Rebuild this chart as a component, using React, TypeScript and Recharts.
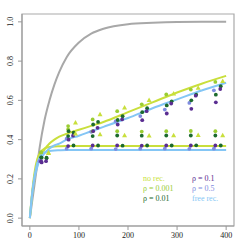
import React from "react";
import { ComposedChart, Line, Scatter, XAxis, YAxis, ReferenceArea } from "recharts";

// sampling points of the theory curves
const lineX = [0, 5, 10, 15, 20, 30, 40, 50, 60, 75, 100, 125, 150, 200, 250, 300, 350, 400];
const grayCurve = [0, 0.09, 0.18, 0.27, 0.36, 0.5, 0.6, 0.68, 0.745, 0.82, 0.895, 0.94, 0.965, 0.988, 0.995, 0.999, 1.0, 1.0];
const noRecGrow = [0, 0.13, 0.22, 0.28, 0.31, 0.35, 0.38, 0.4, 0.415, 0.43, 0.45, 0.47, 0.49, 0.54, 0.59, 0.64, 0.685, 0.725];
const freeRecGrow = [0, 0.13, 0.21, 0.26, 0.295, 0.33, 0.355, 0.37, 0.38, 0.4, 0.42, 0.443, 0.465, 0.51, 0.56, 0.605, 0.65, 0.69];
const noRecFlat = [0, 0.14, 0.24, 0.3, 0.33, 0.355, 0.362, 0.365, 0.366, 0.367, 0.367, 0.367, 0.367, 0.367, 0.367, 0.367, 0.367, 0.367];
const freeRecFlat = [0, 0.13, 0.22, 0.28, 0.31, 0.335, 0.342, 0.345, 0.346, 0.347, 0.347, 0.347, 0.347, 0.347, 0.347, 0.347, 0.347, 0.347];

// simulation time points
const times = [20, 75, 125, 175, 225, 275, 325, 375];

// growing scenario
const growNoRec = [0.33, 0.486, 0.528, 0.562, 0.6, 0.633, 0.663, 0.697];
const growRho001 = [0.335, 0.469, 0.503, 0.545, 0.58, 0.63, 0.655, 0.694];
const growRho01a = [0.308, 0.443, 0.477, 0.5, 0.54, 0.574, 0.6, 0.629];
const growRho01b = [0.308, 0.435, 0.49, 0.519, 0.56, 0.595, 0.629, 0.672];
const growRho1a = [0.284, 0.4, 0.443, 0.477, 0.499, 0.533, 0.557, 0.59];
const growRho1b = [0.29, 0.42, 0.46, 0.503, 0.545, 0.584, 0.624, 0.658];
const growRho5 = [0.29, 0.405, 0.44, 0.494, 0.52, 0.553, 0.587, 0.651];

// flat scenario
const flatNoRec = [0.333, 0.43, 0.426, 0.421, 0.42, 0.421, 0.422, 0.421];
const flatRho001 = [0.335, 0.452, 0.443, 0.443, 0.441, 0.443, 0.444, 0.443];
const flatRho01a = [0.31, 0.418, 0.418, 0.421, 0.42, 0.421, 0.421, 0.421];
const flatRho01b = [0.305, 0.37, 0.37, 0.369, 0.37, 0.37, 0.371, 0.37];
const flatRho1 = [0.29, 0.367, 0.37, 0.37, 0.369, 0.37, 0.37, 0.37];
const flatRho5 = [0.29, 0.354, 0.354, 0.352, 0.354, 0.354, 0.353, 0.354];

const xTicks = [0, 100, 200, 300, 400];
const yTicks = [0, 0.2, 0.4, 0.6, 0.8, 1.0];

const C = {
  gray: "#a8a8a8",
  noRec: "#c9df3c",
  rho001: "#9acd32",
  rho01: "#1c6a2c",
  rho1: "#5a2d91",
  rho5: "#7f8ce0",
  freeRec: "#84c6f5",
};

const font = '"Liberation Serif", "Times New Roman", serif';

const toLine = (ys: number[]) => lineX.map((x, i) => ({ x, y: ys[i] }));
const toPts = (ys: number[], dx: number) => times.map((t, i) => ({ x: t + dx, y: ys[i] }));

const dot = (color: string) => (p: any) => <circle cx={p.cx} cy={p.cy} r={1.9} fill={color} />;
const tri = (color: string) => (p: any) => (
  <polygon points={`${p.cx},${p.cy - 2.8} ${p.cx - 2.5},${p.cy + 1.7} ${p.cx + 2.5},${p.cy + 1.7}`} fill={color} />
);

const points = [
  { ys: growRho5, dx: 0, shape: dot(C.rho5) },
  { ys: flatRho5, dx: 0, shape: dot(C.rho5) },
  { ys: growRho001, dx: 3, shape: dot(C.rho001) },
  { ys: flatRho001, dx: 3, shape: dot(C.rho001) },
  { ys: growRho01a, dx: 4, shape: dot(C.rho01) },
  { ys: flatRho01a, dx: 3, shape: dot(C.rho01) },
  { ys: growRho1a, dx: 4, shape: dot(C.rho1) },
  { ys: flatRho1, dx: 3, shape: dot(C.rho1) },
  { ys: growRho01b, dx: 14, shape: dot(C.rho01) },
  { ys: flatRho01b, dx: 14, shape: dot(C.rho01) },
  { ys: growRho1b, dx: 13, shape: dot(C.rho1) },
  { ys: growNoRec, dx: 18, shape: tri(C.noRec) },
  { ys: flatNoRec, dx: 18, shape: tri(C.noRec) },
];

const YTick = (props: any) => {
  const { x, y, payload } = props;
  const bx = x - 3;
  return (
    <text x={bx} y={y} transform={`rotate(-90, ${bx}, ${y})`} textAnchor="middle" fontSize={8} fill="#222" fontFamily={font}>
      {payload.value.toFixed(1)}
    </text>
  );
};

const legend = [
  { label: "no rec.", color: C.noRec, x: 143, y: 174 },
  { label: "ρ = 0.001", color: C.rho001, x: 143, y: 184 },
  { label: "ρ = 0.01", color: C.rho01, x: 143, y: 193.5 },
  { label: "ρ = 0.1", color: C.rho1, x: 192, y: 174 },
  { label: "ρ = 0.5", color: C.rho5, x: 192, y: 184 },
  { label: "free rec.", color: C.freeRec, x: 192, y: 193.5 },
];

export default function App() {
  return (
    <div style={{ position: "absolute", left: 0, top: 0, width: 249, height: 249, background: "#fff" }}>
      <ComposedChart width={249} height={249} margin={{ top: 14, right: 15, bottom: 0, left: 0 }}>
        <XAxis
          type="number"
          dataKey="x"
          domain={[-16, 416]}
          ticks={xTicks}
          height={23}
          tickSize={4}
          stroke="#999"
          tick={{ fontSize: 8, fill: "#222", fontFamily: font }}
        />
        <YAxis
          type="number"
          dataKey="y"
          domain={[-0.04, 1.04]}
          ticks={yTicks}
          width={22}
          tickSize={4}
          stroke="#999"
          tick={<YTick />}
        />
        <ReferenceArea x1={-16} x2={416} y1={-0.04} y2={1.04} fill="none" stroke="#aaa" strokeWidth={1.2} />
        <Line data={toLine(grayCurve)} dataKey="y" type="monotone" stroke={C.gray} strokeWidth={2} dot={false} isAnimationActive={false} />
        <Line data={toLine(noRecGrow)} dataKey="y" type="monotone" stroke={C.noRec} strokeWidth={2} dot={false} isAnimationActive={false} />
        <Line data={toLine(noRecFlat)} dataKey="y" type="monotone" stroke={C.noRec} strokeWidth={2} dot={false} isAnimationActive={false} />
        <Line data={toLine(freeRecGrow)} dataKey="y" type="monotone" stroke={C.freeRec} strokeWidth={2} dot={false} isAnimationActive={false} />
        <Line data={toLine(freeRecFlat)} dataKey="y" type="monotone" stroke={C.freeRec} strokeWidth={2} dot={false} isAnimationActive={false} />
        {points.map((s, i) => (
          <Scatter key={i} data={toPts(s.ys, s.dx)} dataKey="y" shape={s.shape} isAnimationActive={false} />
        ))}
      </ComposedChart>
      {legend.map((l) => (
        <div
          key={l.label}
          style={{ position: "absolute", left: l.x, top: l.y, fontSize: 8, lineHeight: "10px", color: l.color, fontFamily: font, whiteSpace: "nowrap" }}
        >
          {l.label}
        </div>
      ))}
    </div>
  );
}
